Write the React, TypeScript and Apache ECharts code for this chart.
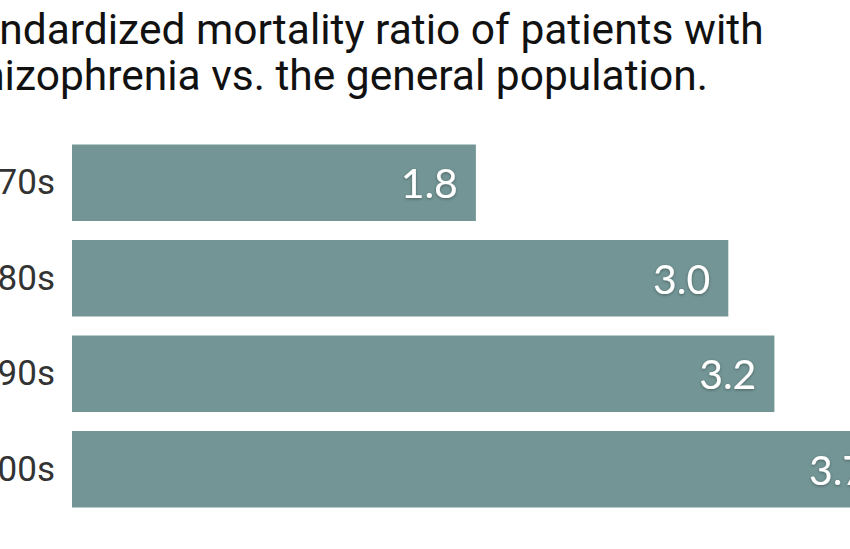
import React, { useEffect, useRef } from "react";
import * as echarts from "echarts";

const titleLines = [
  "Standardized mortality ratio of patients with",
  "schizophrenia vs. the general population.",
];
const categories = ["1970s", "1980s", "1990s", "2000s"];
const values = [1.84, 2.99, 3.2, 3.7];
const valueLabels = ["1.8", "3.0", "3.2", "3.7"];

export default function App() {
  const ref = useRef<HTMLDivElement>(null);
  useEffect(() => {
    document.body.style.margin = "0";
    const chart = echarts.init(ref.current!, null, { renderer: "svg" });
    chart.setOption({
      animation: false,
      backgroundColor: "#ffffff",
      title: {
        text: titleLines.join("\n"),
        left: -68,
        top: 1,
        textStyle: {
          fontFamily: "Roboto, 'Liberation Sans', sans-serif",
          fontSize: 42.5,
          fontWeight: "normal",
          lineHeight: 46,
          color: "#111111",
        },
      },
      grid: {
        left: 72,
        right: -100,
        top: 135,
        bottom: 32,
        containLabel: false,
        outerBoundsMode: "none",
      },
      xAxis: {
        type: "value",
        min: 0,
        max: 4,
        show: false,
        splitLine: { show: false },
      },
      yAxis: {
        type: "category",
        data: categories,
        inverse: true,
        axisLine: { show: false },
        axisTick: { show: false },
        axisLabel: {
          color: "#333333",
          fontSize: 35,
          margin: 17,
          fontFamily: "Roboto, 'Liberation Sans', sans-serif",
        },
      },
      series: [
        {
          type: "bar",
          data: values,
          barCategoryGap: "20%",
          itemStyle: { color: "#739595" },
          label: {
            show: true,
            position: "insideRight",
            distance: 18,
            formatter: (p: any) => valueLabels[p.dataIndex],
            color: "#ffffff",
            fontSize: 41,
            fontFamily: "Lato, 'Open Sans', sans-serif",
            textShadowColor: "rgba(0,0,0,0.35)",
            textShadowBlur: 3,
            textShadowOffsetY: 1,
          },
        },
      ],
    });
    return () => chart.dispose();
  }, []);
  return <div ref={ref} style={{ width: 850, height: 549 }} />;
}
